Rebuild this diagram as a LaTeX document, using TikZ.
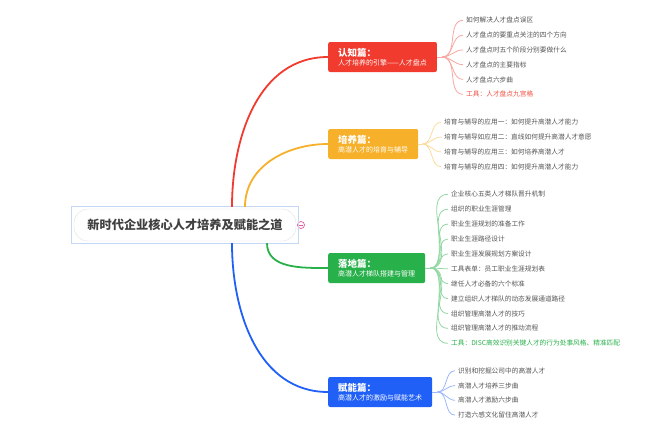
\documentclass[tikz,border=0pt]{standalone}
\usepackage{fontspec}
\setmainfont{Noto Sans CJK SC}

\definecolor{rzred}{HTML}{F03B2E}
\definecolor{pyorange}{HTML}{F6B02A}
\definecolor{ldgreen}{HTML}{28B04A}
\definecolor{fnblue}{HTML}{2060F6}
\definecolor{leafgray}{HTML}{555555}
\definecolor{selblue}{HTML}{C4D8F6}
\definecolor{foldpink}{HTML}{E9579C}

\begin{document}
\begin{tikzpicture}[x=1pt,y=-1pt,
rootnode/.style={rectangle,rounded corners=14pt,draw=black!12,fill=white,minimum width=222pt,minimum height=32pt,text=black!75,font=\bfseries\fontsize{12.2}{14}\selectfont},
      topic/.style={rectangle,rounded corners=2pt,anchor=west,text=white,minimum height=30pt,inner xsep=10pt,inner ysep=2pt,align=left,font=\fontsize{7}{8.5}\selectfont},
      leaf/.style={anchor=west,inner xsep=3pt,inner ysep=1pt,text=leafgray,font=\fontsize{6.7}{8}\selectfont},
      branch/.style={line width=1.8pt},
      twig/.style={line width=0.8pt}]
  \useasboundingbox (0,0) rectangle (664,429);
  \path

(185,225) node[rootnode] (root) {新时代企业核心人才培养及赋能之道}
(301,225) node[circle,draw=foldpink,fill=white,line width=0.7pt,minimum size=7pt,inner sep=0pt] (fold) {}

(328,57) node[topic,fill=rzred] (rz) {{\bfseries\fontsize{9.5}{11}\selectfont 认知篇：}\\[1pt]人才培养的引擎——人才盘点}
(328,144) node[topic,fill=pyorange] (py) {{\bfseries\fontsize{9.5}{11}\selectfont 培养篇：}\\[1pt]高潜人才的培育与辅导}
(328,268) node[topic,fill=ldgreen] (ld) {{\bfseries\fontsize{9.5}{11}\selectfont 落地篇：}\\[1pt]高潜人才梯队搭建与管理}
(328,392) node[topic,fill=fnblue] (fn) {{\bfseries\fontsize{9.5}{11}\selectfont 赋能篇：}\\[1pt]高潜人才的激励与赋能艺术}

(463,20.3) node[leaf] (rz1) {如何解决人才盘点误区}
(463,35.1) node[leaf] (rz2) {人才盘点的要重点关注的四个方向}
(463,49.9) node[leaf] (rz3) {人才盘点时五个阶段分别要做什么}
(463,64.7) node[leaf] (rz4) {人才盘点的主要指标}
(463,79.5) node[leaf] (rz5) {人才盘点六步曲}
(463,94.3) node[leaf,text=rzred!90] (rz6) {工具：人才盘点九宫格}

(441,122.3) node[leaf] (py1) {培育与辅导的应用一：如何提升高潜人才能力}
(441,137.1) node[leaf] (py2) {培育与辅导如应用二：直线如何提升高潜人才意愿}
(441,151.9) node[leaf] (py3) {培育与辅导的应用三：如何培养高潜人才}
(441,166.7) node[leaf] (py4) {培育与辅导的应用四：如何提升高潜人才能力}

(448,194.3) node[leaf] (ld1) {企业核心五类人才梯队晋升机制}
(448,209.2) node[leaf] (ld2) {组织的职业生涯管理}
(448,224.1) node[leaf] (ld3) {职业生涯规划的准备工作}
(448,239.0) node[leaf] (ld4) {职业生涯路径设计}
(448,253.9) node[leaf] (ld5) {职业生涯发展规划方案设计}
(448,268.8) node[leaf] (ld6) {工具表单：员工职业生涯规划表}
(448,283.7) node[leaf] (ld7) {继任人才必备的六个标准}
(448,298.6) node[leaf] (ld8) {建立组织人才梯队的动态发展通道路径}
(448,313.5) node[leaf] (ld9) {组织管理高潜人才的技巧}
(448,328.4) node[leaf] (ld10) {组织管理高潜人才的推动流程}
(448,343.3) node[leaf,text=ldgreen] (ld11) {工具：DISC高效识别关键人才的行为处事风格、精准匹配}

(455,370.7) node[leaf] (fn1) {识别和挖掘公司中的高潜人才}
(455,385.5) node[leaf] (fn2) {高潜人才培养三步曲}
(455,400.3) node[leaf] (fn3) {高潜人才激励六步曲}
(455,415.1) node[leaf] (fn4) {打造六感文化留住高潜人才}
;
  % selection frame and fold button
  \draw[selblue,line width=0.9pt] ([xshift=-2pt,yshift=2pt]root.north west) rectangle ([xshift=2pt,yshift=-2pt]root.south east);
  \draw[foldpink,line width=0.7pt] ([xshift=1.6pt]fold.west) -- ([xshift=-1.6pt]fold.east);

  % main branches
  \draw[branch,rzred] ([xshift=47pt,yshift=2pt]root.north) to[out=90,in=180] (rz.west);
  \draw[branch,pyorange] ([xshift=60pt,yshift=2pt]root.north) to[out=90,in=180] (py.west);
  \draw[branch,ldgreen] ([xshift=82pt,yshift=-2pt]root.south) to[out=-90,in=180] (ld.west);
  \draw[branch,fnblue] ([xshift=47pt,yshift=-2pt]root.south) to[out=-90,in=180] (fn.west);

  % forks
  \coordinate (rzfork) at ([xshift=5pt]rz.east);
  \coordinate (pyfork) at ([xshift=4pt]py.east);
  \coordinate (ldfork) at ([xshift=5pt]ld.east);
  \coordinate (fnfork) at ([xshift=5pt]fn.east);

  \draw[twig,rzred!45] (rz.east) -- (rzfork);
  \draw[twig,rzred!45] (rzfork) to[out=0,in=180] (rz1.west);
  \draw[twig,rzred!45] (rzfork) to[out=0,in=180] (rz2.west);
  \draw[twig,rzred!45] (rzfork) to[out=0,in=180] (rz3.west);
  \draw[twig,rzred!45] (rzfork) to[out=0,in=180] (rz4.west);
  \draw[twig,rzred!45] (rzfork) to[out=0,in=180] (rz5.west);
  \draw[twig,rzred!45] (rzfork) to[out=0,in=180] (rz6.west);

  \draw[twig,pyorange!45] (py.east) -- (pyfork);
  \draw[twig,pyorange!45] (pyfork) to[out=0,in=180] (py1.west);
  \draw[twig,pyorange!45] (pyfork) to[out=0,in=180] (py2.west);
  \draw[twig,pyorange!45] (pyfork) to[out=0,in=180] (py3.west);
  \draw[twig,pyorange!45] (pyfork) to[out=0,in=180] (py4.west);

  \draw[twig,ldgreen!50] (ld.east) -- (ldfork);
  \draw[twig,ldgreen!50] (ldfork) to[out=0,in=180] (ld1.west);
  \draw[twig,ldgreen!50] (ldfork) to[out=0,in=180] (ld2.west);
  \draw[twig,ldgreen!50] (ldfork) to[out=0,in=180] (ld3.west);
  \draw[twig,ldgreen!50] (ldfork) to[out=0,in=180] (ld4.west);
  \draw[twig,ldgreen!50] (ldfork) to[out=0,in=180] (ld5.west);
  \draw[twig,ldgreen!50] (ldfork) to[out=0,in=180] (ld6.west);
  \draw[twig,ldgreen!50] (ldfork) to[out=0,in=180] (ld7.west);
  \draw[twig,ldgreen!50] (ldfork) to[out=0,in=180] (ld8.west);
  \draw[twig,ldgreen!50] (ldfork) to[out=0,in=180] (ld9.west);
  \draw[twig,ldgreen!50] (ldfork) to[out=0,in=180] (ld10.west);
  \draw[twig,ldgreen!50] (ldfork) to[out=0,in=180] (ld11.west);

  \draw[twig,fnblue!45] (fn.east) -- (fnfork);
  \draw[twig,fnblue!45] (fnfork) to[out=0,in=180] (fn1.west);
  \draw[twig,fnblue!45] (fnfork) to[out=0,in=180] (fn2.west);
  \draw[twig,fnblue!45] (fnfork) to[out=0,in=180] (fn3.west);
  \draw[twig,fnblue!45] (fnfork) to[out=0,in=180] (fn4.west);
\end{tikzpicture}
\end{document}
